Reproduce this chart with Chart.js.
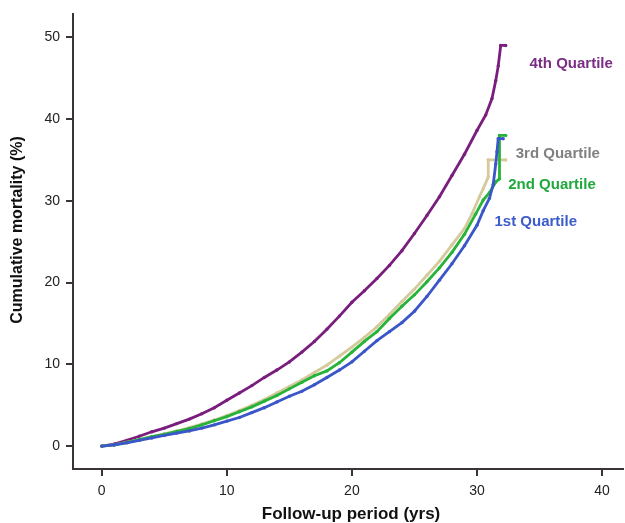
<!DOCTYPE html>
<html>
<head>
<meta charset="utf-8">
<script src="https://cdn.jsdelivr.net/npm/chart.js@4.4.0/dist/chart.umd.min.js"></script>
<style>
  html, body { margin: 0; padding: 0; background: #fff; }
  #box { width: 625px; height: 523px; }
</style>
</head>
<body>
<div id="box"><canvas id="myChart" width="625" height="523"></canvas></div>
<script>
// follow-up time (yrs) and cumulative mortality (%) per quartile
const q4Time  = [0, 1, 2, 3, 4, 5, 6, 7, 8, 9, 10, 11, 12, 13, 14, 15, 16, 17, 18, 19, 20, 21, 22, 23, 24, 25, 26, 27, 28, 29, 30, 30.7, 31.2, 31.5, 31.7, 31.9, 32.3];
const q4Value = [0, 0.25, 0.7, 1.2, 1.75, 2.2, 2.75, 3.3, 3.95, 4.7, 5.6, 6.5, 7.4, 8.4, 9.3, 10.3, 11.5, 12.8, 14.3, 15.9, 17.6, 19.0, 20.5, 22.1, 23.9, 26.0, 28.2, 30.5, 33.1, 35.7, 38.6, 40.5, 42.5, 44.7, 46.5, 49.0, 49.0];

const q3Time  = [0, 1, 2, 3, 4, 5, 6, 7, 8, 9, 10, 11, 12, 13, 14, 15, 16, 17, 18, 19, 20, 21, 22, 23, 24, 25, 26, 27, 28, 29, 29.6, 30.2, 30.5, 30.9, 30.9, 32.3];
const q3Value = [0, 0.15, 0.45, 0.8, 1.15, 1.5, 1.85, 2.25, 2.7, 3.2, 3.75, 4.35, 5.0, 5.7, 6.5, 7.3, 8.1, 9.0, 9.9, 11.0, 12.1, 13.3, 14.6, 16.1, 17.7, 19.2, 20.9, 22.6, 24.6, 26.6, 28.4, 30.5, 31.5, 32.9, 35.0, 35.0];

const q2Time  = [0, 1, 2, 3, 4, 5, 6, 7, 8, 9, 10, 11, 12, 13, 14, 15, 16, 17, 18, 19, 20, 21, 22, 23, 24, 25, 26, 27, 28, 29, 29.9, 30.5, 31.0, 31.5, 31.8, 31.8, 32.3];
const q2Value = [0, 0.15, 0.45, 0.8, 1.15, 1.45, 1.8, 2.15, 2.6, 3.1, 3.6, 4.2, 4.8, 5.5, 6.2, 7.0, 7.8, 8.6, 9.2, 10.2, 11.5, 12.8, 14.0, 15.6, 17.1, 18.5, 20.1, 21.8, 23.7, 25.9, 28.4, 30.1, 31.0, 32.3, 32.7, 38.0, 38.0];

const q1Time  = [0, 1, 2, 3, 4, 5, 6, 7, 8, 9, 10, 11, 12, 13, 14, 15, 16, 17, 18, 19, 20, 21, 22, 23, 24, 25, 26, 27, 28, 29, 30, 30.5, 31.0, 31.3, 31.5, 31.6, 31.7, 32.1];
const q1Value = [0, 0.15, 0.4, 0.7, 1.0, 1.3, 1.6, 1.85, 2.2, 2.6, 3.05, 3.5, 4.1, 4.7, 5.4, 6.1, 6.7, 7.5, 8.4, 9.3, 10.3, 11.6, 12.9, 14.0, 15.1, 16.5, 18.3, 20.3, 22.3, 24.5, 27.0, 28.8, 30.3, 32.0, 34.5, 36.0, 37.6, 37.6];

const xTicks = [0, 10, 20, 30, 40];
const yTicks = [0, 10, 20, 30, 40, 50];

const seriesNames  = ['1st Quartile', '2nd Quartile', '3rd Quartile', '4th Quartile'];
const seriesColors = ['#3a56c8', '#27b33a', '#d4ca9c', '#7a1e7e'];
const labelColors  = ['#3c5ccc', '#1fa83c', '#808080', '#7b2d86'];
// where each quartile label starts (in data units)
const labelX = [31.4, 32.5, 33.1, 34.2];
const labelY = [27.4, 32.0, 35.8, 46.8];

const axisColor = '#3a3436';

function toPoints(ts, vs) {
  return ts.map((t, i) => ({ x: t, y: vs[i] }));
}

const allSeries = [
  toPoints(q1Time, q1Value),
  toPoints(q2Time, q2Value),
  toPoints(q3Time, q3Value),
  toPoints(q4Time, q4Value)
];

const drawOrder = [1, 2, 3, 4];

const datasets = allSeries.map((pts, i) => ({
  label: seriesNames[i],
  data: pts,
  borderColor: seriesColors[i],
  backgroundColor: seriesColors[i],
  borderWidth: 2.8,
  pointRadius: 1.7,
  pointHoverRadius: 0,
  pointBorderWidth: 0,
  tension: 0,
  fill: false,
  order: drawOrder[i]
}));

// quartile labels and axis titles
const textPlugin = {
  id: 'textPlugin',
  afterDraw(chart) {
    const ctx = chart.ctx;
    const xs = chart.scales.x;
    const ys = chart.scales.y;
    ctx.save();
    ctx.font = 'bold 15px "Liberation Sans", Arial, sans-serif';
    ctx.textAlign = 'left';
    ctx.textBaseline = 'middle';
    seriesNames.forEach((name, i) => {
      ctx.fillStyle = labelColors[i];
      ctx.fillText(name, xs.getPixelForValue(labelX[i]), ys.getPixelForValue(labelY[i]));
    });

    ctx.fillStyle = '#111';
    ctx.font = 'bold 17px "Liberation Sans", Arial, sans-serif';
    ctx.textAlign = 'center';
    ctx.fillText('Follow-up period (yrs)', 351, 514);

    ctx.font = 'bold 16px "Liberation Sans", Arial, sans-serif';
    ctx.translate(18, 230);
    ctx.rotate(-Math.PI / 2);
    ctx.fillText('Cumulative mortality (%)', 0, 0);
    ctx.restore();
  }
};

const ctx = document.getElementById('myChart').getContext('2d');
const myChart = new Chart(ctx, {
  type: 'line',
  data: { datasets: datasets },
  options: {
    responsive: false,
    animation: false,
    layout: { padding: { top: 14, right: 0, bottom: 0, left: 0 } },
    plugins: {
      legend: { display: false },
      tooltip: { enabled: false }
    },
    scales: {
      x: {
        type: 'linear',
        min: -2.3,
        max: 41.7,
        afterBuildTicks: function(scale) {
          scale.ticks = xTicks.map(v => ({ value: v }));
        },
        afterFit: function(scale) { scale.height = 54; },
        grid: { display: true, drawOnChartArea: false, drawTicks: true, tickLength: 7, color: axisColor, lineWidth: 2 },
        border: { display: true, color: axisColor, width: 2 },
        ticks: {
          color: '#222',
          font: { family: '"Liberation Sans", Arial, sans-serif', size: 14 },
          padding: 7,
          maxRotation: 0
        }
      },
      y: {
        type: 'linear',
        min: -2.8,
        max: 52.8,
        afterBuildTicks: function(scale) {
          scale.ticks = yTicks.map(v => ({ value: v }));
        },
        afterFit: function(scale) { scale.width = 73; },
        grid: { display: true, drawOnChartArea: false, drawTicks: true, tickLength: 7, color: axisColor, lineWidth: 2 },
        border: { display: true, color: axisColor, width: 2 },
        ticks: {
          color: '#222',
          font: { family: '"Liberation Sans", Arial, sans-serif', size: 14 },
          padding: 6
        }
      }
    }
  },
  plugins: [textPlugin]
});
</script>
</body>
</html>
